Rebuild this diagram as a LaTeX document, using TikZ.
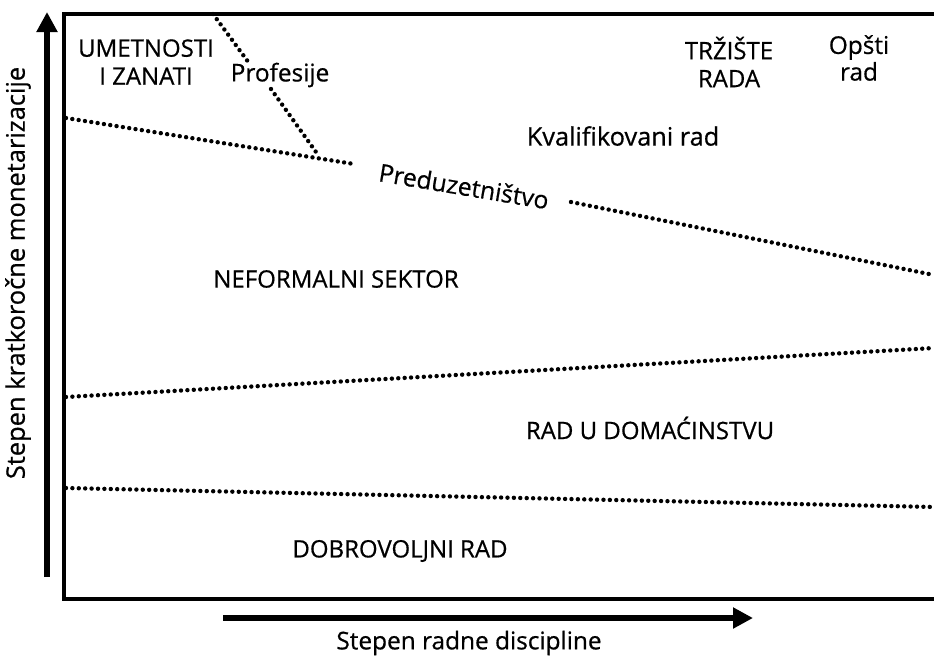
\documentclass[tikz,border=0pt]{standalone}
\usepackage{fontspec}
\setmainfont{Open Sans}[FakeBold=0.6]
\usetikzlibrary{arrows.meta}
\tikzset{
  lbl/.style={inner sep=0pt, align=center, font=\fontsize{18.3pt}{20pt}\selectfont},
  caps/.style={inner sep=0pt, align=center, font=\fontsize{18pt}{21pt}\selectfont},
  frame/.style={line width=2.6pt},
  axis/.style={line width=3.8pt, -{Triangle[length=15pt,width=15pt]}},
  dots/.style={line width=3.3pt, line cap=round, dash pattern=on 0pt off 4.8pt}
}
\begin{document}
\begin{tikzpicture}[x=0.75pt,y=-0.75pt]
\useasboundingbox (0,0) rectangle (934,658);
% frame
\coordinate (ftr) at (934,14);
\coordinate (ftl) at (64,14);
\coordinate (fbl) at (64,599);
\coordinate (fbr) at (934,599);
\draw[frame] (ftr) -- (ftl) -- (fbl) -- (fbr);
% axes
\coordinate (ya0) at (47,577);
\coordinate (ya1) at (47,12);
\coordinate (xa0) at (223,618);
\coordinate (xa1) at (753,618);
\draw[axis] (ya0) -- (ya1);
\draw[axis] (xa0) -- (xa1);
\node[lbl, rotate=90, font=\fontsize{19.1pt}{21pt}\selectfont] (ylab) at (18,273) {Stepen kratkoročne monetarizacije};
\node[lbl] (xlab) at (469,643) {Stepen radne discipline};
% labels
\node[caps] (umet) at (146,62) {UMETNOSTI\\I ZANATI};
\node[lbl] (prof) at (280,75) {Profesije};
\node[caps] (trz) at (729,62) {TRŽIŠTE\\RADA};
\node[lbl] (opsti) at (859,58) {Opšti\\rad};
\node[lbl, font=\fontsize{19pt}{21pt}\selectfont] (kval) at (623,136) {Kvalifikovani rad};
\node[lbl, rotate=-9.5, font=\fontsize{18.5pt}{21pt}\selectfont] (pred) at (464,186) {Preduzetništvo};
\node[caps] (nef) at (336,279) {NEFORMALNI SEKTOR};
\node[caps] (dom) at (650,428) {RAD U DOMAĆINSTVU};
\node[caps] (dob) at (400,551) {DOBROVOLJNI RAD};
% dotted lines
\coordinate (p1) at (213,14);
\coordinate (p2) at (249,63);
\coordinate (p3) at (271,89);
\coordinate (p4) at (316,152);
\draw[dots] (p1) -- (p2);
\draw[dots] (p3) -- (p4);
\coordinate (t1) at (66,118);
\coordinate (t2) at (354,164);
\coordinate (t3) at (571,202);
\coordinate (t4) at (934,275);
\draw[dots] (t1) -- (t2);
\draw[dots] (t3) -- (t4);
\coordinate (m1) at (66,397);
\coordinate (m2) at (934,348);
\draw[dots] (m1) -- (m2);
\coordinate (b1) at (66,488);
\coordinate (b2) at (934,507);
\draw[dots] (b1) -- (b2);
\end{tikzpicture}
\end{document}
